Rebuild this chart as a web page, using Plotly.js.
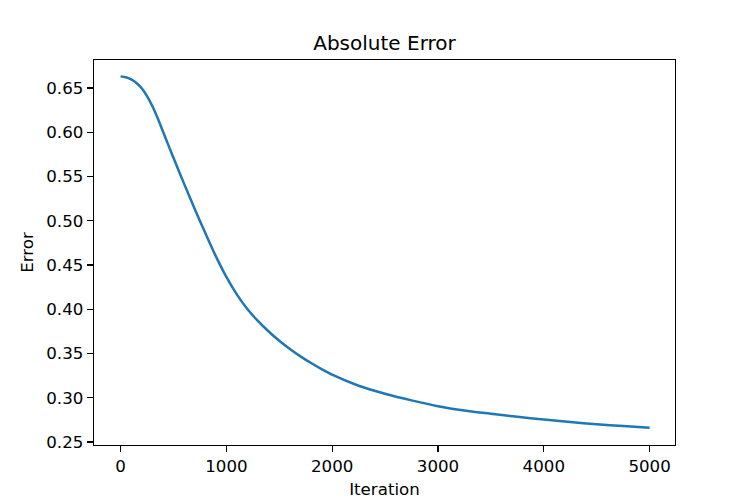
<!DOCTYPE html>
<html>
<head>
<meta charset="utf-8">
<script src="https://cdn.plot.ly/plotly-3.0.1.min.js"></script>
<style>html,body{margin:0;padding:0;background:#fff;}#chart{width:750px;height:500px;}</style>
</head>
<body>
<div id="chart"></div>
<script>
const iterations = [0, 50, 100, 150, 200, 250, 300, 350, 400, 450, 500, 600, 700, 800, 900, 1000, 1100, 1200, 1300, 1400, 1500, 1600, 1700, 1800, 1900, 2000, 2250, 2500, 2750, 3000, 3250, 3500, 3750, 4000, 4250, 4500, 4750, 5000];
const errors = [0.6631, 0.6621, 0.6596, 0.6556, 0.6496, 0.6408, 0.6296, 0.6160, 0.6011, 0.5860, 0.5711, 0.5419, 0.5136, 0.4863, 0.4600, 0.4365, 0.4165, 0.4000, 0.3865, 0.3748, 0.3643, 0.3550, 0.3467, 0.3392, 0.3324, 0.3260, 0.3135, 0.3045, 0.2970, 0.2905, 0.2856, 0.2819, 0.2785, 0.2754, 0.2726, 0.2700, 0.2681, 0.2662];

const font = {family: 'DejaVu Sans, sans-serif', size: 16.67, color: '#000'};
const data = [{
  x: iterations, y: errors, type: 'scatter', mode: 'lines',
  line: {color: '#1f77b4', width: 2.5, shape: 'spline', smoothing: 0.8}
}];
const layout = {
  width: 750, height: 500,
  margin: {l: 94, r: 75, t: 60, b: 55},
  paper_bgcolor: '#fff', plot_bgcolor: '#fff',
  font: font,
  showlegend: false,
  title: {text: 'Absolute Error', font: {family: 'DejaVu Sans, sans-serif', size: 20, color: '#000'},
          x: 384.5/750, xref: 'container', xanchor: 'center', y: 1 - 43/500, yref: 'container', yanchor: 'middle'},
  xaxis: {
    range: [-251, 5240], dtick: 1000, tick0: 0,
    showgrid: false, zeroline: false,
    showline: true, linecolor: '#000', linewidth: 1.3, mirror: true,
    ticks: 'outside', ticklen: 6, tickwidth: 1.3, tickcolor: '#000',
    tickfont: font,
    title: {text: 'Iteration', font: font, standoff: 8}
  },
  yaxis: {
    range: [0.2466, 0.6816], dtick: 0.05, tick0: 0.25, tickformat: '.2f',
    showgrid: false, zeroline: false,
    showline: true, linecolor: '#000', linewidth: 1.3, mirror: true,
    ticks: 'outside', ticklen: 6, tickwidth: 1.3, tickcolor: '#000',
    tickfont: font,
    title: {text: 'Error', font: font, standoff: 8}
  }
};
Plotly.newPlot('chart', data, layout, {displayModeBar: false, staticPlot: true});
</script>
</body>
</html>
